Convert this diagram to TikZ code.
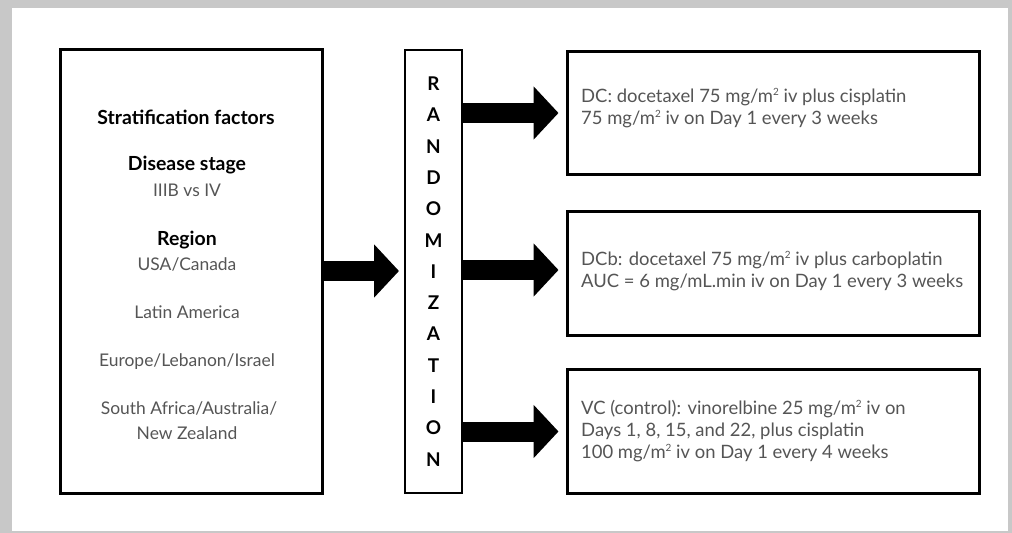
\documentclass[tikz,border=0pt]{standalone}
\usepackage{fontspec}
\setmainfont{Lato}
\usetikzlibrary{arrows.meta}
\definecolor{framegrey}{HTML}{C8C8C8}
\definecolor{txt}{HTML}{555555}
\newcommand{\sqtwo}{\raisebox{0.75ex}{\fontsize{10}{10}\selectfont 2}}
\begin{document}
\begin{tikzpicture}[x=1bp,y=-1bp,
  leftbox/.style={draw=black, line width=3bp, inner sep=0, minimum width=261bp, minimum height=443bp},
  randbox/.style={draw=black, line width=2bp, inner sep=0, minimum width=57bp, minimum height=443bp},
  armbox/.style={draw=black, line width=3bp, inner sep=0, minimum width=412bp, minimum height=123bp},
  head/.style={font=\fontsize{19.5}{22}\selectfont\bfseries, text=black, inner sep=0},
  item/.style={font=\fontsize{17.5}{22}\selectfont, text=txt, inner sep=0},
  armtext/.style={font=\fontsize{18.5}{22.5}\selectfont, text=txt, align=left, anchor=west, inner sep=0},
  bigarrow/.style={line width=20bp, -{Triangle[length=25bp 0 0, width=52bp 0 0]}},
]
\fill[framegrey] (0,0) rectangle (1012,533);
\fill[white] (12,8) rectangle (1008,531);
\useasboundingbox (0,0) rectangle (1012,533);

% boxes
\node[leftbox] (strat) at (191.5,271.5) {};
\node[randbox] (rand) at (433.5,271.5) {};
\node[armbox] (dc) at (773,113) {};
\node[armbox] (dcb) at (773,273.5) {};
\node[armbox] (vc) at (773,431.5) {};

% left box texts
\node[head] (t1) at (186,117) {Stratification factors};
\node[head] (t2) at (187,165) {Disease stage};
\node[item] (t3) at (187,190) {IIIB vs IV};
\node[head] (t4) at (187,240) {Region};
\node[item] (t5) at (187,264) {USA/Canada};
\node[item] (t6) at (187,312) {Latin America};
\node[item] (t7) at (187,362) {Europe/Lebanon/Israel};
\node[item] (t8) at (189,408) {South Africa/Australia/};
\node[item] (t9) at (187,433) {New Zealand};

% randomization letters
\node[font=\fontsize{19}{31.4}\selectfont\bfseries, align=center, inner sep=0] (rtext) at (433.5,271.5)
  {R\\A\\N\\D\\O\\M\\I\\Z\\A\\T\\I\\O\\N};

% arm texts
\node[armtext] (dctext) at (581,108) {DC: docetaxel 75 mg/m\sqtwo{} iv plus cisplatin\\75 mg/m\sqtwo{} iv on Day 1 every 3 weeks};
\node[armtext] (dcbtext) at (581,271) {DCb: docetaxel 75 mg/m\sqtwo{} iv plus carboplatin\\AUC = 6 mg/mL.min iv on Day 1 every 3 weeks};
\node[armtext] (vctext) at (581,431) {VC (control): vinorelbine 25 mg/m\sqtwo{} iv on\\Days 1, 8, 15, and 22, plus cisplatin\\100 mg/m\sqtwo{} iv on Day 1 every 4 weeks};

% arrows
\draw[bigarrow] (strat.east |- 0,271) -- ([xshift=-5bp]rand.west |- 0,271);
\draw[bigarrow] (rand.east |- dc.west) -- ([xshift=-7bp]dc.west);
\draw[bigarrow] (rand.east |- 0,270) -- ([xshift=-7bp]dcb.west |- 0,270);
\draw[bigarrow] (rand.east |- vc.west) -- ([xshift=-7bp]vc.west);
\end{tikzpicture}
\end{document}
